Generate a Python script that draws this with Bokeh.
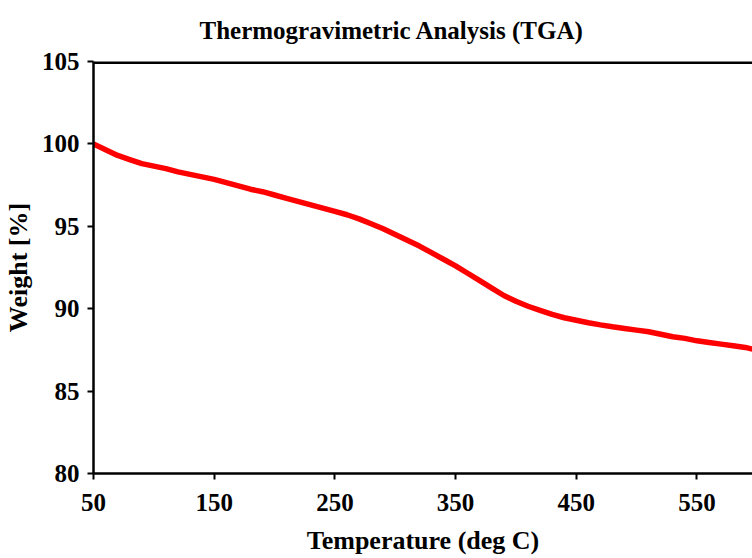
from bokeh.plotting import figure
from bokeh.models import Span, FixedTicker, Range1d
from bokeh.embed import file_html
from bokeh.resources import INLINE

temperature = [50, 60, 70, 80, 90, 100, 110, 120, 130, 140, 150, 160, 170, 180, 190,
               200, 210, 220, 230, 240, 250, 260, 270, 280, 290, 300, 310, 320, 330,
               340, 350, 360, 370, 380, 390, 400, 410, 420, 430, 440, 450, 460, 470,
               480, 490, 500, 510, 520, 530, 540, 550, 560, 570, 580, 590, 596]
weight = [100.0, 99.65, 99.3, 99.05, 98.8, 98.65, 98.5, 98.3, 98.15, 98.0, 97.85,
          97.65, 97.45, 97.25, 97.1, 96.9, 96.7, 96.5, 96.3, 96.1, 95.9, 95.7, 95.45,
          95.15, 94.85, 94.5, 94.15, 93.8, 93.4, 93.0, 92.6, 92.15, 91.7, 91.25, 90.8,
          90.45, 90.15, 89.9, 89.65, 89.45, 89.3, 89.15, 89.02, 88.9, 88.8, 88.7, 88.6,
          88.45, 88.3, 88.2, 88.05, 87.95, 87.85, 87.75, 87.65, 87.55]
x_ticks = [50, 150, 250, 350, 450, 550]
y_ticks = [80, 85, 90, 95, 100, 105]

FONT = "Liberation Serif"

p = figure(width=752, height=558, output_backend="svg", toolbar_location=None,
           x_range=Range1d(50, 596), y_range=Range1d(80, 105),
           min_border_left=93, min_border_right=0, min_border_top=61, min_border_bottom=85,
           title="Thermogravimetric Analysis (TGA)")
p.title.text_font = FONT
p.title.text_font_style = "bold"
p.title.text_font_size = "25px"
p.title.text_color = "black"
p.title.align = "left"
p.title.offset = 106
p.title.standoff = 32
p.title.vertical_align = "top"
p.title.text_baseline = "top"

p.outline_line_color = None
p.background_fill_color = "white"
p.border_fill_color = "white"
p.xgrid.visible = False
p.ygrid.visible = False

p.line(temperature, weight, line_color="#FF0000", line_width=5.5)

for ax, ticks in ((p.xaxis, x_ticks), (p.yaxis, y_ticks)):
    ax.ticker = FixedTicker(ticks=ticks)
    ax.minor_tick_line_color = None
    ax.axis_line_width = 2.5
    ax.axis_line_color = "black"
    ax.major_tick_line_width = 2
    ax.major_tick_line_color = "black"
    ax.major_tick_in = 0
    ax.major_tick_out = 6
    ax.major_label_text_font = FONT
    ax.major_label_text_font_style = "bold"
    ax.major_label_text_font_size = "25px"
    ax.major_label_text_color = "black"
    ax.axis_label_text_font = FONT
    ax.axis_label_text_font_style = "bold"
    ax.axis_label_text_font_size = "26px"
    ax.axis_label_text_color = "black"

p.xaxis.axis_label = "Temperature (deg C)"
p.yaxis.axis_label = "Weight [%]"
p.xaxis.major_label_standoff = 14
p.xaxis.axis_label_standoff = 12
p.yaxis.major_label_standoff = 8
p.yaxis.axis_label_standoff = 6

# top border of the plot box (right side is cropped in the reference)
p.add_layout(Span(location=105, dimension="width", line_color="black", line_width=5))

open("out.html", "w").write(file_html(p, INLINE))
